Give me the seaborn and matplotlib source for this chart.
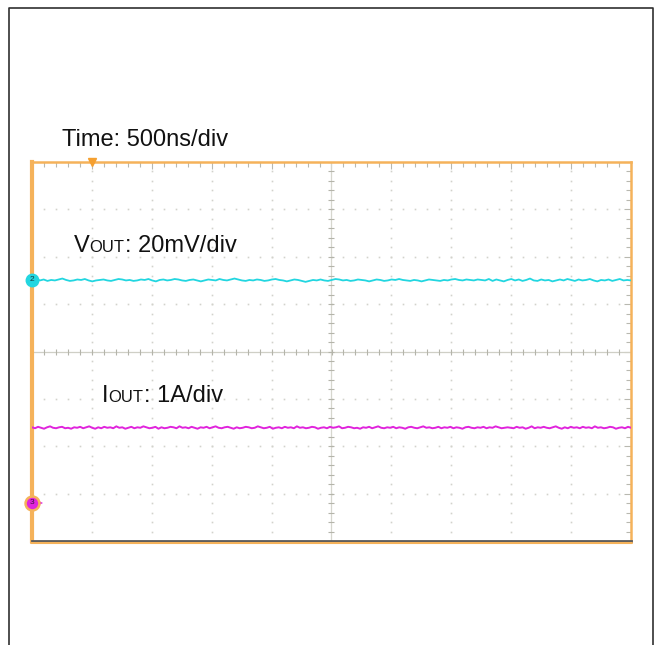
import numpy as np
import pandas as pd
import seaborn as sns
import matplotlib
matplotlib.use("Agg")
import matplotlib.pyplot as plt
from matplotlib.lines import Line2D

# ---- data (divisions, screen centre = 0) ----
vout_trace = [
    1.53, 1.50, 1.52, 1.49, 1.51, 1.50, 1.52, 1.54, 1.51, 1.49,
    1.50, 1.52, 1.51, 1.53, 1.50, 1.48, 1.50, 1.51, 1.52, 1.50,
    1.49, 1.51, 1.53, 1.52, 1.50, 1.51, 1.49, 1.50, 1.52, 1.51,
    1.53, 1.50, 1.48, 1.51, 1.52, 1.50, 1.51, 1.53, 1.52, 1.50,
    1.49, 1.51, 1.52, 1.50, 1.48, 1.50, 1.52, 1.51, 1.50, 1.53,
    1.51, 1.50, 1.52, 1.54, 1.52, 1.50, 1.49, 1.51, 1.50, 1.52,
    1.51, 1.49, 1.50, 1.52, 1.53, 1.51, 1.50, 1.48, 1.50, 1.52,
    1.51, 1.49, 1.47, 1.49, 1.51, 1.50, 1.52, 1.50, 1.49, 1.51,
    1.53, 1.52, 1.50, 1.51, 1.49, 1.50, 1.52, 1.51, 1.50, 1.48,
    1.50, 1.52, 1.51, 1.49, 1.50, 1.52, 1.51, 1.53, 1.51, 1.50,
    1.49, 1.51, 1.50, 1.48, 1.50, 1.52, 1.51, 1.50, 1.49, 1.51,
    1.50, 1.52, 1.53, 1.51, 1.50, 1.52, 1.51, 1.50, 1.52, 1.51,
    1.50, 1.53, 1.49, 1.52, 1.50, 1.48, 1.51, 1.53, 1.50, 1.52,
    1.49, 1.51, 1.54, 1.50, 1.49, 1.52, 1.50, 1.51, 1.48, 1.50,
    1.52, 1.50, 1.53, 1.51, 1.49, 1.52, 1.50, 1.51, 1.53, 1.50,
    1.48, 1.51, 1.50, 1.52, 1.49, 1.51, 1.53, 1.50, 1.51, 1.50,
]
iout_trace = [
    -1.60, -1.62, -1.59, -1.61, -1.63, -1.60, -1.58, -1.61, -1.62, -1.60,
    -1.59, -1.62, -1.61, -1.63, -1.60, -1.61, -1.59, -1.62, -1.60, -1.58,
    -1.61, -1.63, -1.60, -1.62, -1.59, -1.61, -1.60, -1.62, -1.58, -1.61,
    -1.60, -1.63, -1.61, -1.59, -1.62, -1.60, -1.61, -1.58, -1.60, -1.62,
    -1.61, -1.59, -1.63, -1.60, -1.62, -1.61, -1.59, -1.60, -1.62, -1.58,
    -1.61, -1.60, -1.62, -1.59, -1.61, -1.63, -1.60, -1.61, -1.59, -1.62,
    -1.60, -1.58, -1.61, -1.62, -1.60, -1.59, -1.61, -1.63, -1.60, -1.62,
    -1.61, -1.59, -1.60, -1.62, -1.61, -1.58, -1.60, -1.62, -1.61, -1.59,
    -1.63, -1.61, -1.60, -1.62, -1.59, -1.61, -1.60, -1.62, -1.58, -1.61,
    -1.60, -1.62, -1.61, -1.59, -1.60, -1.63, -1.61, -1.60, -1.62, -1.59,
    -1.61, -1.60, -1.58, -1.62, -1.61, -1.59, -1.60, -1.62, -1.61, -1.63,
    -1.60, -1.61, -1.59, -1.62, -1.60, -1.58, -1.61, -1.62, -1.60, -1.61,
    -1.59, -1.62, -1.60, -1.61, -1.63, -1.60, -1.59, -1.61, -1.62, -1.60,
    -1.58, -1.61, -1.60, -1.62, -1.61, -1.59, -1.62, -1.60, -1.61, -1.59,
    -1.62, -1.60, -1.61, -1.63, -1.60, -1.59, -1.61, -1.62, -1.60, -1.61,
    -1.59, -1.62, -1.60, -1.61, -1.58, -1.60, -1.62, -1.61, -1.60, -1.61,
    -1.62, -1.59, -1.61, -1.60, -1.63, -1.61, -1.58, -1.62, -1.60, -1.61,
    -1.59, -1.61, -1.62, -1.60, -1.58, -1.61, -1.63, -1.60, -1.62, -1.59,
    -1.61, -1.60, -1.62, -1.59, -1.61, -1.60, -1.62, -1.58, -1.61, -1.60,
    -1.62, -1.61, -1.59, -1.60, -1.63, -1.61, -1.60, -1.62, -1.59, -1.61,
]
ch2_marker_level = 1.51
ch3_marker_level = -3.19
trigger_pos = -4.0
time_label = "Time: 500ns/div"
vout_label = ("V", "OUT", ": 20mV/div")
iout_label = ("I", "OUT", ": 1A/div")

CYAN = "#22d6e0"
MAGENTA = "#e024dc"
ORANGE = "#f5b25a"
GRID = "#d2d2cc"

sns.set_style("white")
plt.rcParams["font.family"] = ["Liberation Sans", "DejaVu Sans"]

W, H = 661, 645
fig = plt.figure(figsize=(W / 100, H / 100), dpi=100)
ax = fig.add_axes([32 / W, 1 - 541 / H, 599 / W, 379 / H])
ax.set_xlim(-5, 5)
ax.set_ylim(-4, 4)

# graticule dots
minor_x = np.arange(-5, 5.001, 0.2)
minor_y = np.arange(-4, 4.001, 0.2)
for gx in range(-4, 5):
    if gx == 0:
        continue
    ax.plot(np.full_like(minor_y, gx), minor_y, ls="none", marker="s", ms=1.2,
            mew=0, color=GRID, zorder=1)
for gy in range(-3, 4):
    if gy == 0:
        continue
    ax.plot(minor_x, np.full_like(minor_x, gy), ls="none", marker="s", ms=1.2,
            mew=0, color=GRID, zorder=1)
# centre cross with ticks
ax.axhline(0, color="#cfcfc6", lw=0.9, zorder=1)
ax.axvline(0, color="#d6d6ce", lw=0.9, zorder=1)
ax.plot(minor_x, np.zeros_like(minor_x), ls="none", marker="|", ms=5, mew=0.8,
        color="#b4b4aa", zorder=1)
ax.plot(np.zeros_like(minor_y), minor_y, ls="none", marker="_", ms=5, mew=0.8,
        color="#b4b4aa", zorder=1)

# edge ticks
ax.set_xticks(np.arange(-5, 5.01, 1))
ax.set_yticks(np.arange(-4, 4.01, 1))
ax.set_xticks(minor_x, minor=True)
ax.set_yticks(minor_y, minor=True)
ax.tick_params(which="both", direction="in", top=True, right=True,
               labelbottom=False, labelleft=False, color="#b8b8b0", width=0.8)
ax.tick_params(which="major", length=5)
ax.tick_params(which="minor", length=3.5)

# traces
df_v = pd.DataFrame({"t": np.linspace(-4.93, 5, len(vout_trace)), "v": vout_trace})
df_i = pd.DataFrame({"t": np.linspace(-5, 5, len(iout_trace)), "v": iout_trace})
sns.lineplot(data=df_v, x="t", y="v", ax=ax, color=CYAN, lw=1.3, zorder=5)
sns.lineplot(data=df_i, x="t", y="v", ax=ax, color=MAGENTA, lw=1.4, zorder=5)
ax.set_xlabel("")
ax.set_ylabel("")

# spines
for s in ["top", "right"]:
    ax.spines[s].set_color(ORANGE)
    ax.spines[s].set_linewidth(1.8)
ax.spines["left"].set_color(ORANGE)
ax.spines["left"].set_linewidth(3)
ax.spines["bottom"].set_color("#5a5a5a")
ax.spines["bottom"].set_linewidth(2)
fig.add_artist(Line2D([31 / W, 632 / W], [1 - 542.5 / H, 1 - 542.5 / H],
                      color=ORANGE, lw=1.5))

# channel markers
ax.plot(-5, ch2_marker_level, "o", ms=9, color=CYAN, clip_on=False, zorder=10)
ax.text(-5, ch2_marker_level, "2", fontsize=6, ha="center", va="center",
        color="#1a3a3a", zorder=11, clip_on=False)
ax.plot([-4.95, -4.88], [ch3_marker_level, ch3_marker_level], color=MAGENTA,
        lw=1.2, clip_on=False, zorder=9)
ax.plot(-4.87, ch3_marker_level, ">", ms=4, color=MAGENTA, mew=0,
        clip_on=False, zorder=9)
ax.plot(-5, ch3_marker_level, "o", ms=10, color=MAGENTA, mec=ORANGE, mew=1.8,
        clip_on=False, zorder=10)
ax.text(-5, ch3_marker_level, "3", fontsize=6, ha="center", va="center",
        color="#401040", zorder=11, clip_on=False)
ax.plot(trigger_pos, 4, "v", ms=6, color="#f5a030", clip_on=False, zorder=10)

# outer frame
fig.add_artist(Line2D([8.5 / W, 8.5 / W, 652.5 / W, 652.5 / W],
                      [0, 1 - 7.5 / H, 1 - 7.5 / H, 0], color="#303030", lw=1.2))

# labels
fig.text(62 / W, 1 - 146 / H, time_label, fontsize=17, va="baseline",
         color="#111111")


def sub_label(x_px, y_px, parts):
    fig.canvas.draw()
    r = fig.canvas.get_renderer()
    x = x_px
    sizes = [17, 12, 17]
    for p, fs in zip(parts, sizes):
        t = fig.text(x / W, 1 - y_px / H, p, fontsize=fs, va="baseline",
                     color="#111111")
        bb = t.get_window_extent(renderer=r)
        x += bb.width


sub_label(74, 252, vout_label)
sub_label(102, 402, iout_label)

fig.savefig("out.png", dpi=100)
